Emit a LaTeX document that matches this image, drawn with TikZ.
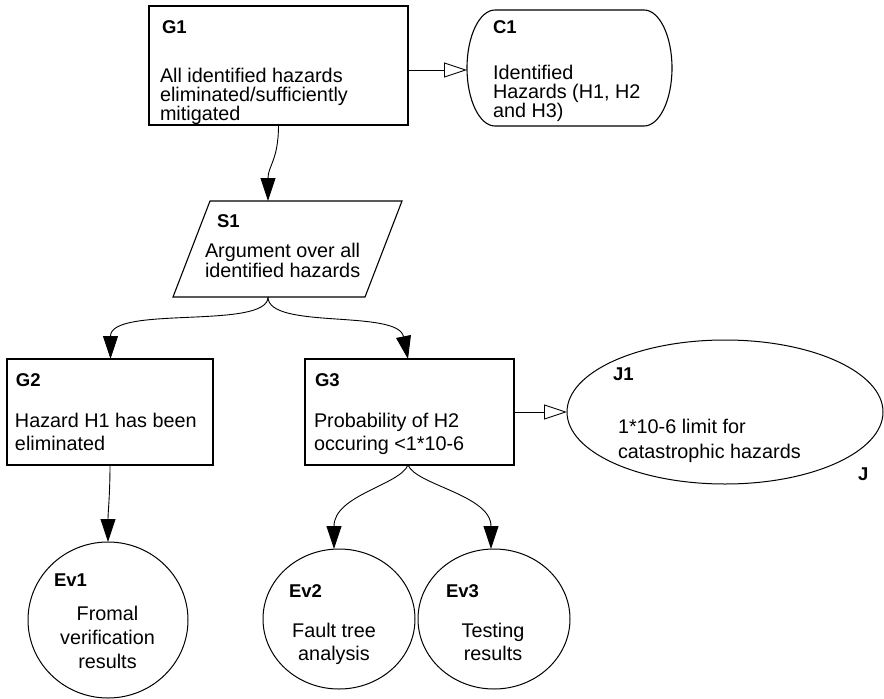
\documentclass[tikz,border=0pt]{standalone}
\usepackage{fontspec}
\setmainfont{Liberation Sans}
\usetikzlibrary{arrows.meta,shapes.geometric}
\begin{document}
\begin{tikzpicture}[x=1pt,y=-1pt,
  every node/.style={inner sep=0pt,outer sep=0pt},
  shapeline/.style={draw=black,line width=1.1pt},
  goalbox/.style={shapeline,rectangle},
  hidden/.style={rectangle},
  evid/.style={draw=black,line width=1pt,ellipse},
  lbl/.style={font=\fontsize{18.5}{20}\selectfont\bfseries,anchor=base west},
  txt/.style={font=\fontsize{19.8}{#1}\selectfont,anchor=base west,align=left},
  ctxt/.style={font=\fontsize{19.8}{#1}\selectfont,anchor=base,align=center},
  link/.style={line width=0.9pt,-{Triangle[length=23pt,width=15pt]}},
  ctxlink/.style={line width=0.9pt,-{Triangle[open,length=23pt,width=15pt,fill=white]}}
]
\useasboundingbox (0,0) rectangle (884,699);
\fill[white] (0,0) rectangle (884,699);

% G1 (text nodes are anchored at the baseline of their last line)
\node[goalbox,minimum width=259pt,minimum height=119pt] (G1) at (278.5,65.5) {};
\node[lbl] (G1l) at (162,33) {G1};
\node[txt=19] (G1t) at (160,120) {All identified hazards\\eliminated/sufficiently\\mitigated};

% C1
\node[hidden,minimum width=205pt,minimum height=116pt] (C1) at (569.5,68) {};
\draw[shapeline] ([xshift=28pt]C1.north west) -- ([xshift=-28pt]C1.north east)
  arc[start angle=90,end angle=-90,x radius=28pt,y radius=58pt]
  -- ([xshift=28pt]C1.south west)
  arc[start angle=270,end angle=90,x radius=28pt,y radius=58pt] -- cycle;
\node[lbl] (C1l) at (493,33) {C1};
\node[txt=19] (C1t) at (493,117) {Identified\\Hazards (H1, H2\\and H3)};

% S1
\node[hidden,minimum width=229pt,minimum height=96pt] (S1) at (287.5,249) {};
\draw[shapeline] ([xshift=37pt]S1.north west) -- (S1.north east)
  -- ([xshift=-37pt]S1.south east) -- (S1.south west) -- cycle;
\node[lbl] (S1l) at (217,227) {S1};
\node[txt=20] (S1t) at (205,277) {Argument over all\\identified hazards};

% G2, G3
\node[goalbox,minimum width=206pt,minimum height=106pt] (G2) at (110,412) {};
\node[lbl] (G2l) at (16,386) {G2};
\node[txt=23] (G2t) at (15,450) {Hazard H1 has been\\eliminated};

\node[goalbox,minimum width=209pt,minimum height=106pt] (G3) at (409.5,412) {};
\node[lbl] (G3l) at (315,386) {G3};
\node[txt=23] (G3t) at (314,450) {Probability of H2\\occuring <1*10-6};

% J1
\node[evid,minimum width=316pt,minimum height=144pt] (J1) at (725,412) {};
\node[lbl] (J1l) at (613,380) {J1};
\node[txt=25] (J1t) at (618,458) {1*10-6 limit for\\catastrophic hazards};
\node[lbl] (J1j) at (858,480) {J};

% Evidence
\node[evid,minimum width=160pt,minimum height=156pt] (Ev1) at (108,620) {};
\node[lbl] (Ev1l) at (54,586) {Ev1};
\node[ctxt=24] (Ev1t) at (107.5,668) {Fromal\\verification\\results};

\node[evid,minimum width=152pt,minimum height=140pt] (Ev2) at (339,619) {};
\node[lbl] (Ev2l) at (289,597) {Ev2};
\node[ctxt=23.5] (Ev2t) at (334,660.5) {Fault tree\\analysis};

\node[evid,minimum width=152pt,minimum height=140pt] (Ev3) at (494,619) {};
\node[lbl] (Ev3l) at (446,597) {Ev3};
\node[ctxt=23.5] (Ev3t) at (493,660.5) {Testing\\results};

% connectors
\draw[ctxlink] ([yshift=-4.5pt]G1.east) -- ([yshift=-4.5pt]G1.east -| C1.west);
\draw[link] (G1.south) .. controls +(0,35) and +(0,-35) .. ([xshift=-19.5pt]S1.north);
\draw[link] ([xshift=-19.5pt]S1.south) .. controls +(0,33) and +(0,-54) .. ([xshift=0.5pt]G2.north);
\draw[link] ([xshift=-19.5pt]S1.south) .. controls +(0,33) and +(-10,-50) .. ([xshift=-1.5pt]G3.north);
\draw[link] (G2.south) .. controls +(0,30) and +(0,-30) .. (Ev1.north);
\draw[link] ([xshift=-1.5pt]G3.south) .. controls +(-8,20) and +(0,-54) .. ([xshift=-5pt]Ev2.north);
\draw[link] ([xshift=-1.5pt]G3.south) .. controls +(8,20) and +(0,-54) .. ([xshift=-3pt]Ev3.north);
\draw[ctxlink] (G3.east) -- (J1.west);
\end{tikzpicture}
\end{document}
